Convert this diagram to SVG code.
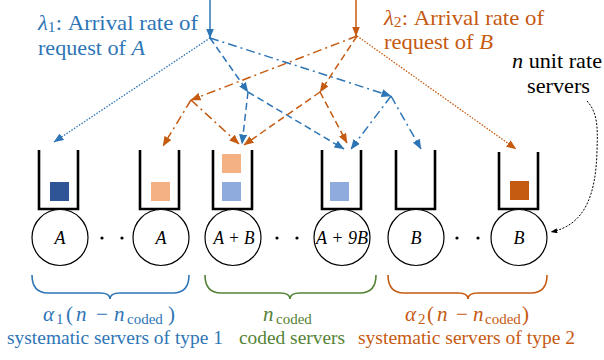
<svg xmlns="http://www.w3.org/2000/svg" width="604" height="360" viewBox="0 0 604 360">
<style>
text{font-family:"Liberation Serif","Times New Roman",serif}
.it{font-style:italic}
.tb{fill:#2E75B6}
.to{fill:#C55A11}
.tg{fill:#548235}
.tk{fill:#000}
.lbl{font-size:22px}
.bot{font-size:19.5px}
.math{font-size:21px}
.sub{font-size:15px}
.q{fill:none;stroke:#000;stroke-width:2.6}
.c{fill:#fff;stroke:#000;stroke-width:1.2}
.ct{font-size:18px;font-style:italic;text-anchor:middle}
.cb{fill:none;stroke:#2E75B6;stroke-width:1.5}
.co{fill:none;stroke:#C55A11;stroke-width:1.5}
.dash{stroke-dasharray:7 4}
.dd{stroke-dasharray:9 4 2 4}
.dot{stroke-dasharray:1.5 1.5;stroke-width:1.3}
.brace{fill:none;stroke-width:1.6}
</style>
<defs>
<marker id="mb" viewBox="0 0 10 8" refX="9.5" refY="4" markerWidth="10" markerHeight="8" markerUnits="userSpaceOnUse" orient="auto"><path d="M0,0 L10,4 L0,8 z" fill="#2E75B6"/></marker>
<marker id="mo" viewBox="0 0 10 8" refX="9.5" refY="4" markerWidth="10" markerHeight="8" markerUnits="userSpaceOnUse" orient="auto"><path d="M0,0 L10,4 L0,8 z" fill="#C55A11"/></marker>
<marker id="mk" viewBox="0 0 8 6" refX="7.5" refY="3" markerWidth="7" markerHeight="5" markerUnits="userSpaceOnUse" orient="auto"><path d="M0,0 L8,3 L0,6 z" fill="#000"/></marker>
<clipPath id="clipb"><rect x="0" y="0" width="604" height="348"/></clipPath>
</defs>

<g id="label-lambda1">
<text class="lbl tb" y="30" textLength="160" lengthAdjust="spacingAndGlyphs"><tspan x="38" class="it">λ</tspan><tspan class="sub" dy="2">1</tspan><tspan dy="-2">: Arrival rate of</tspan></text>
<text class="lbl tb" x="38" y="55" textLength="107" lengthAdjust="spacingAndGlyphs">request of <tspan class="it">A</tspan></text>
</g>
<g id="label-lambda2">
<text class="lbl to" y="25" textLength="160" lengthAdjust="spacingAndGlyphs"><tspan x="384" class="it">λ</tspan><tspan class="sub" dy="2">2</tspan><tspan dy="-2">: Arrival rate of</tspan></text>
<text class="lbl to" x="384" y="49" textLength="109" lengthAdjust="spacingAndGlyphs">request of <tspan class="it">B</tspan></text>
</g>
<g id="label-n-servers">
<text class="lbl tk" x="512" y="68" textLength="90" lengthAdjust="spacingAndGlyphs"><tspan class="it">n</tspan> unit rate</text>
<text class="lbl tk" x="527" y="93" textLength="63" lengthAdjust="spacingAndGlyphs">servers</text>
</g>

<g id="connectors">
<path class="cb" d="M210,0 V38" marker-end="url(#mb)"/>
<path class="cb dot" d="M210,38 L54,142" marker-end="url(#mb)"/>
<path class="cb dash" d="M210,38 L248,92" marker-end="url(#mb)"/>
<path class="cb dash" d="M248,92 L242,144" marker-end="url(#mb)"/>
<path class="cb dash" d="M248,92 L344,149" marker-end="url(#mb)"/>
<path class="cb dd" d="M210,38 L391,96" marker-end="url(#mb)"/>
<path class="cb dd" d="M391,96 L351,149" marker-end="url(#mb)"/>
<path class="cb dd" d="M391,96 L421,149" marker-end="url(#mb)"/>
<path class="co" d="M356,0 V36" marker-end="url(#mo)"/>
<path class="co dot" d="M357,36 L516,149" marker-end="url(#mo)"/>
<path class="co dash" d="M357,36 L320,92" marker-end="url(#mo)"/>
<path class="co dash" d="M320,92 L347,143" marker-end="url(#mo)"/>
<path class="co dash" d="M320,92 L244,145" marker-end="url(#mo)"/>
<path class="co dd" d="M357,36 L191,100" marker-end="url(#mo)"/>
<path class="co dd" d="M191,100 L163,146" marker-end="url(#mo)"/>
<path class="co dd" d="M191,100 L239,144" marker-end="url(#mo)"/>
<path d="M587,101 C597,112 598,125 597,150 C596,195 585,225 551,232" fill="none" stroke="#000" stroke-width="1" stroke-dasharray="2 1.5" marker-end="url(#mk)"/>
</g>

<g id="server-1">
<path class="q" d="M39,150 V209 H78 V150"/>
<rect x="50" y="182" width="19" height="19" fill="#2F5597"/>
<circle class="c" cx="60" cy="237.5" r="28"/>
<text class="ct" x="60" y="244">A</text>
</g>
<g id="server-2">
<path class="q" d="M140,150 V209 H179 V150"/>
<rect x="151" y="182" width="19" height="19" fill="#F4B183"/>
<circle class="c" cx="161" cy="237.5" r="28"/>
<text class="ct" x="161" y="244">A</text>
</g>
<g id="server-3">
<path class="q" d="M213,150 V209 H252 V150"/>
<rect x="222" y="154" width="19" height="19" fill="#F4B183"/>
<rect x="222" y="182" width="19" height="19" fill="#8FAADC"/>
<circle class="c" cx="233" cy="237.5" r="28"/>
<text class="ct" x="234" y="244" textLength="41" lengthAdjust="spacingAndGlyphs">A + B</text>
</g>
<g id="server-4">
<path class="q" d="M322,150 V209 H361 V150"/>
<rect x="330" y="182" width="19" height="19" fill="#8FAADC"/>
<circle class="c" cx="342" cy="237.5" r="28"/>
<text class="ct" x="342" y="244" textLength="52" lengthAdjust="spacingAndGlyphs">A + 9B</text>
</g>
<g id="server-5">
<path class="q" d="M396,150 V209 H435 V150"/>
<circle class="c" cx="416" cy="237.5" r="28"/>
<text class="ct" x="416" y="244">B</text>
</g>
<g id="server-6">
<path class="q" d="M499,152 V209 H538 V152"/>
<rect x="510" y="181" width="19" height="19" fill="#C55A11"/>
<circle class="c" cx="519" cy="237.5" r="28"/>
<text class="ct" x="519" y="244">B</text>
</g>

<g id="ellipses" fill="#000">
<circle cx="102" cy="238" r="1.6"/><circle cx="122" cy="238" r="1.6"/>
<circle cx="277" cy="238" r="1.6"/><circle cx="297" cy="238" r="1.6"/>
<circle cx="457" cy="238" r="1.6"/><circle cx="478" cy="238" r="1.6"/>
</g>

<g id="group-type1">
<path class="brace" stroke="#2E75B6" d="M32,275 Q32,293 48,293 L100,293 Q110,293 110,299 Q110,293 120,293 L173,293 Q189,293 189,275"/>
<text class="math tb"><tspan x="43" y="321" class="it">α</tspan><tspan x="56" y="324" class="sub">1</tspan><tspan x="66" y="321">(</tspan><tspan x="76" y="321" class="it">n</tspan><tspan x="96" y="321">−</tspan><tspan x="114" y="321" class="it">n</tspan><tspan x="127" y="324" class="sub">coded</tspan><tspan x="168" y="321">)</tspan></text>
<text class="bot tb" x="7" y="344" clip-path="url(#clipb)" textLength="216" lengthAdjust="spacingAndGlyphs">systematic servers of type 1</text>
</g>
<g id="group-coded">
<path class="brace" stroke="#548235" d="M205,275 Q205,293 221,293 L280,293 Q290,293 290,299 Q290,293 300,293 L360,293 Q376,293 376,275"/>
<text class="math tg"><tspan x="263" y="321" class="it">n</tspan><tspan x="276" y="324" class="sub">coded</tspan></text>
<text class="bot tg" x="239" y="344" textLength="106" lengthAdjust="spacingAndGlyphs">coded servers</text>
</g>
<g id="group-type2">
<path class="brace" stroke="#C55A11" d="M388,275 Q388,293 404,293 L458,293 Q468,293 468,299 Q468,293 478,293 L531,293 Q547,293 547,275"/>
<text class="math to"><tspan x="405" y="321" class="it">α</tspan><tspan x="418" y="324" class="sub">2</tspan><tspan x="427" y="321">(</tspan><tspan x="437" y="321" class="it">n</tspan><tspan x="456" y="321">−</tspan><tspan x="473" y="321" class="it">n</tspan><tspan x="485" y="324" class="sub">coded</tspan><tspan x="522" y="321">)</tspan></text>
<text class="bot to" x="358" y="344" clip-path="url(#clipb)" textLength="217" lengthAdjust="spacingAndGlyphs">systematic servers of type 2</text>
</g>
</svg>
